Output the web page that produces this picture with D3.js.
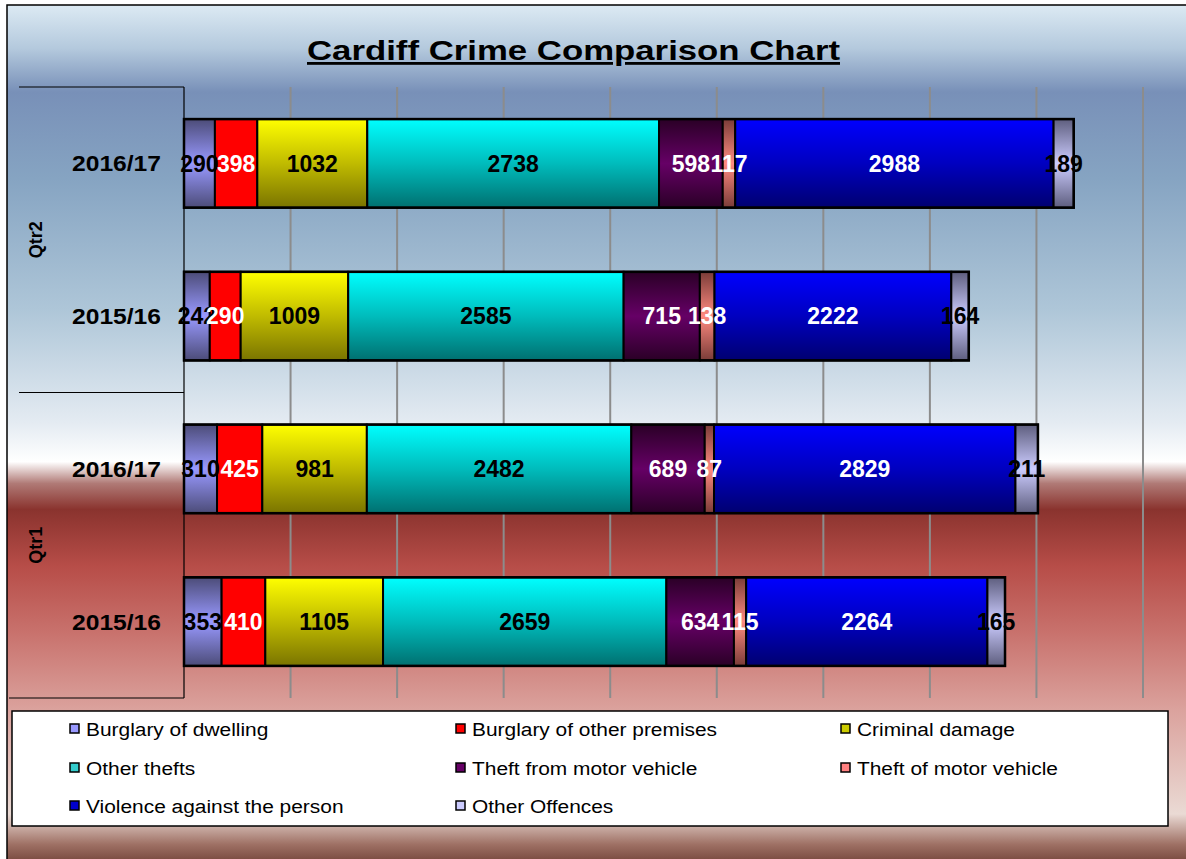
<!DOCTYPE html>
<html>
<head>
<meta charset="utf-8">
<script src="https://cdn.jsdelivr.net/npm/d3@7"></script>
<style>
  html, body { margin: 0; padding: 0; background: #ffffff; }
  svg { display: block; font-family: "Liberation Sans", Arial, sans-serif; }
</style>
</head>
<body>
<svg id="chart" width="1186" height="859"></svg>
<script>
// ---- data ----
const title = "Cardiff Crime Comparison Chart";
const quarters = ["Qtr2", "Qtr1"];
const years = ["2016/17", "2015/16"];
const rows = [
  { quarter: "Qtr2", year: "2016/17" },
  { quarter: "Qtr2", year: "2015/16" },
  { quarter: "Qtr1", year: "2016/17" },
  { quarter: "Qtr1", year: "2015/16" }
];
const seriesNames = [
  "Burglary of dwelling", "Burglary of other premises", "Criminal damage",
  "Other thefts", "Theft from motor vehicle", "Theft of motor vehicle",
  "Violence against the person", "Other Offences"
];
// values per row, in series order
const burglaryDwelling   = [290, 242, 310, 353];
const burglaryOther      = [398, 290, 425, 410];
const criminalDamage     = [1032, 1009, 981, 1105];
const otherThefts        = [2738, 2585, 2482, 2659];
const theftFromVehicle   = [598, 715, 689, 634];
const theftOfVehicle     = [117, 138, 87, 115];
const violence           = [2988, 2222, 2829, 2264];
const otherOffences      = [189, 164, 211, 165];
const seriesValues = [burglaryDwelling, burglaryOther, criminalDamage, otherThefts,
  theftFromVehicle, theftOfVehicle, violence, otherOffences];
const xTicks = [0, 1000, 2000, 3000, 4000, 5000, 6000, 7000, 8000, 9000];

// ---- styles ----
const seriesFill = [
  ["#4c4c78", "#9999ff", "#4c4c78"],
  ["#ff0000", "#ff0000", "#ff0000"],
  ["#ffff00", "#c0bb00", "#7a7400"],
  ["#00ffff", "#00bcbc", "#007070"],
  ["#2a0026", "#660066", "#2a0026"],
  ["#7a3c38", "#ff8a80", "#7a3c38"],
  ["#0000ff", "#0000c0", "#000070"],
  ["#5e5e7e", "#ccccff", "#5e5e7e"]
];
const legendSwatch = ["#9999ff", "#ff0000", "#cccc00", "#33cccc", "#660066", "#ff8080", "#0000cc", "#ccccff"];
const labelColor = ["#000", "#fff", "#000", "#000", "#fff", "#fff", "#fff", "#000"];

const svg = d3.select("#chart");
const defs = svg.append("defs");

// background gradient
const bg = defs.append("linearGradient").attr("id", "bg").attr("x1", 0).attr("y1", 0).attr("x2", 0).attr("y2", 1);
[
  [0.00, "#dceaf3"], [0.05, "#b4c9dd"], [0.10, "#7890b8"], [0.20, "#86a4c2"],
  [0.35, "#aec6d8"], [0.48, "#e4ebf2"], [0.525, "#ffffff"], [0.55, "#b07a76"],
  [0.58, "#8a332e"], [0.645, "#b74d48"], [0.72, "#c8716c"], [0.81, "#dba29d"],
  [0.93, "#eadad4"], [0.965, "#9e7064"], [1.00, "#5a2a20"]
].forEach(([o, c]) => bg.append("stop").attr("offset", o).attr("stop-color", c));

seriesFill.forEach((s, i) => {
  const g = defs.append("linearGradient").attr("id", "g" + i).attr("x1", 0).attr("y1", 0).attr("x2", 0).attr("y2", 1);
  g.append("stop").attr("offset", 0).attr("stop-color", s[0]);
  g.append("stop").attr("offset", 0.5).attr("stop-color", s[1]);
  g.append("stop").attr("offset", 1).attr("stop-color", s[2]);
});

svg.append("rect").attr("x", 7).attr("y", 5).attr("width", 1186).attr("height", 870)
  .attr("fill", "url(#bg)").attr("stroke", "#000").attr("stroke-width", 1.5);

// title
svg.append("text").attr("x", 573.5).attr("y", 60).attr("text-anchor", "middle")
  .attr("font-size", 28).attr("font-weight", "bold").attr("text-decoration", "underline")
  .attr("textLength", 533).attr("lengthAdjust", "spacingAndGlyphs")
  .attr("fill", "#000").text(title);

// scales
const plot = { left: 184, right: 1143, top: 87, bottom: 698 };
const x = d3.scaleLinear().domain([0, 9000]).range([plot.left, plot.right]);
const y = d3.scaleBand().domain(d3.range(rows.length)).range([plot.top, plot.bottom])
  .paddingInner(0.42).paddingOuter(0.21);

// gridlines
svg.append("g").selectAll("line").data(xTicks.slice(1)).join("line")
  .attr("x1", d => x(d)).attr("x2", d => x(d))
  .attr("y1", plot.top).attr("y2", plot.bottom)
  .attr("stroke", "#8c8c8c").attr("stroke-width", 2);

// stacked data
const stackData = rows.map((r, i) => {
  const o = { i };
  seriesNames.forEach((s, k) => o[s] = seriesValues[k][i]);
  return o;
});
const stacked = d3.stack().keys(seriesNames)(stackData);

const segs = svg.append("g");
stacked.forEach((layer, k) => {
  segs.append("g").selectAll("rect").data(layer).join("rect")
    .attr("x", d => x(d[0])).attr("width", d => x(d[1]) - x(d[0]))
    .attr("y", d => y(d.data.i)).attr("height", y.bandwidth())
    .attr("fill", `url(#g${k})`).attr("stroke", "#000").attr("stroke-width", 2);
});
// outer outline for each bar
svg.append("g").selectAll("rect").data(stackData).join("rect")
  .attr("x", x(0)).attr("y", d => y(d.i))
  .attr("width", d => x(d3.sum(seriesNames, s => d[s])) - x(0))
  .attr("height", y.bandwidth()).attr("fill", "none").attr("stroke", "#000").attr("stroke-width", 2.5);

// labels
const lab = svg.append("g").attr("font-size", 23).attr("font-weight", "bold").attr("text-anchor", "middle");
stacked.forEach((layer, k) => {
  lab.append("g").selectAll("text").data(layer).join("text")
    .attr("x", d => (x(d[0]) + x(d[1])) / 2)
    .attr("y", d => y(d.data.i) + y.bandwidth() / 2)
    .attr("dy", "0.36em").attr("fill", labelColor[k])
    .text(d => d[1] - d[0]);
});

// category axis (two levels)
const ax = svg.append("g").attr("stroke", "#000").attr("stroke-width", 1.2);
ax.append("line").attr("x1", plot.left).attr("x2", plot.left).attr("y1", plot.top).attr("y2", plot.bottom);
const midY = y(1) + y.bandwidth() + (y.step() - y.bandwidth()) / 2;
ax.append("line").attr("x1", 19).attr("x2", plot.left).attr("y1", plot.top).attr("y2", plot.top);
ax.append("line").attr("x1", 19).attr("x2", plot.left).attr("y1", midY).attr("y2", midY);
ax.append("line").attr("x1", 9).attr("x2", plot.left).attr("y1", plot.bottom).attr("y2", plot.bottom);

svg.append("g").selectAll("text").data(rows).join("text")
  .attr("x", 161).attr("y", (d, i) => y(i) + y.bandwidth() / 2).attr("dy", "0.36em")
  .attr("text-anchor", "end").attr("font-size", 22).attr("font-weight", "bold")
  .attr("textLength", 89).attr("lengthAdjust", "spacingAndGlyphs").text(d => d.year);

quarters.forEach((q, qi) => {
  const idx = rows.map((r, i) => r.quarter === q ? i : -1).filter(i => i >= 0);
  const cy = (y(idx[0]) + y(idx[idx.length - 1]) + y.bandwidth()) / 2;
  svg.append("text").attr("transform", `translate(42,${cy}) rotate(-90)`)
    .attr("text-anchor", "middle").attr("font-size", 18).attr("font-weight", "bold").text(q);
});

// legend
const lg = svg.append("g");
lg.append("rect").attr("x", 12).attr("y", 711).attr("width", 1156).attr("height", 115)
  .attr("fill", "#fff").attr("stroke", "#000").attr("stroke-width", 1.5);
const colX = [75, 461, 846];
const rowY = [729, 768, 806];
seriesNames.forEach((s, k) => {
  const cx = colX[k % 3], cy = rowY[Math.floor(k / 3)];
  lg.append("rect").attr("x", cx - 5).attr("y", cy - 5).attr("width", 9).attr("height", 9)
    .attr("fill", legendSwatch[k]).attr("stroke", "#000").attr("stroke-width", 1.5);
  lg.append("text").attr("x", cx + 11).attr("y", cy).attr("dy", "0.36em")
    .attr("font-size", 19).attr("fill", "#000")
    .attr("transform", `translate(${cx + 11},0) scale(1.1,1) translate(${-(cx + 11)},0)`)
    .text(s);
});
</script>
</body>
</html>
